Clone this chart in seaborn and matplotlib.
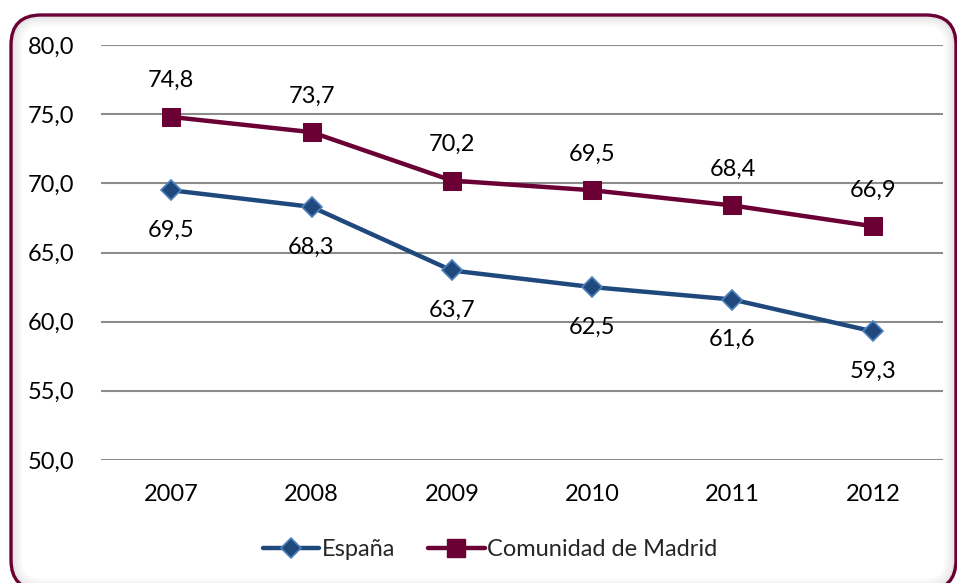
import matplotlib
matplotlib.use("Agg")
import matplotlib.pyplot as plt
import seaborn as sns
import pandas as pd
from matplotlib.patches import FancyBboxPatch
from matplotlib.transforms import IdentityTransform
from matplotlib.lines import Line2D

years = ["2007", "2008", "2009", "2010", "2011", "2012"]
espana = [69.5, 68.3, 63.7, 62.5, 61.6, 59.3]
madrid = [74.8, 73.7, 70.2, 69.5, 68.4, 66.9]
yticks = [50, 55, 60, 65, 70, 75, 80]

sns.set_theme(style="white")
plt.rcParams["font.family"] = ["Lato", "DejaVu Sans"]

W, H = 957, 583
fig = plt.figure(figsize=(W / 100, H / 100), dpi=100)
fig.patch.set_facecolor("white")

FS = 17

# rounded frame with soft inner shadow
bx0, bytop, bx1, bybot = 11, 15, 956, 590
for i, a in enumerate([0.12, 0.08, 0.06, 0.04, 0.02]):
    inset = 2 + i * 2
    p = FancyBboxPatch((bx0 + inset, H - bybot + inset), (bx1 - bx0) - 2 * inset,
                       (bybot - bytop) - 2 * inset,
                       boxstyle="round,pad=0,rounding_size=%d" % (30 - inset),
                       transform=IdentityTransform(), fill=False,
                       edgecolor=(0.3, 0.3, 0.3, a), linewidth=2)
    fig.patches.append(p)
frame = FancyBboxPatch((bx0, H - bybot), bx1 - bx0, bybot - bytop,
                       boxstyle="round,pad=0,rounding_size=30",
                       transform=IdentityTransform(), fill=False,
                       edgecolor="#6B0034", linewidth=2.4)
fig.patches.append(frame)

ax = fig.add_axes([101 / W, 1 - 460 / H, (943 - 101) / W, (460 - 45) / H])
ax.set_facecolor("none")

df = pd.DataFrame({"year": years, "España": espana, "Comunidad de Madrid": madrid})
xs = list(range(len(years)))
df["x"] = xs

blue = "#1F497D"
maroon = "#6B0034"

sns.lineplot(data=df, x="x", y="España", ax=ax, color=blue, linewidth=3.2,
             marker="D", markersize=10, markerfacecolor=blue,
             markeredgecolor="#4F81BD", markeredgewidth=1.2, zorder=3)
sns.lineplot(data=df, x="x", y="Comunidad de Madrid", ax=ax, color=maroon, linewidth=3.2,
             marker="s", markersize=13, markerfacecolor=maroon,
             markeredgecolor=maroon, zorder=3)

fmt = lambda v: ("%.1f" % v).replace(".", ",")
for x, v in zip(xs, madrid):
    ax.annotate(fmt(v), (x, v), xytext=(0, 26), textcoords="offset points",
                ha="center", va="center", fontsize=FS, color="black")
for x, v in zip(xs, espana):
    ax.annotate(fmt(v), (x, v), xytext=(0, -29), textcoords="offset points",
                ha="center", va="center", fontsize=FS, color="black")

ax.set_xlim(-0.5, len(years) - 0.5)
ax.set_ylim(50, 80)
ax.set_xticks(xs)
ax.set_xticklabels(years)
ax.set_yticks(yticks)
ax.set_yticklabels([fmt(v) for v in yticks])
ax.yaxis.grid(True, color="#8C8C8C", linewidth=1.5)
ax.set_axisbelow(True)
for s in ax.spines.values():
    s.set_visible(False)
ax.tick_params(axis="both", length=0, labelsize=FS, colors="black")
ax.tick_params(axis="y", pad=19)
ax.tick_params(axis="x", pad=17)
ax.set_xlabel("")
ax.set_ylabel("")
if ax.get_legend():
    ax.get_legend().remove()

handles = [
    Line2D([], [], color=blue, linewidth=3.2, marker="D", markersize=10,
           markerfacecolor=blue, markeredgecolor="#4F81BD", markeredgewidth=1.2),
    Line2D([], [], color=maroon, linewidth=3.2, marker="s", markersize=13,
           markerfacecolor=maroon, markeredgecolor=maroon),
]
fig.legend(handles, ["España", "Comunidad de Madrid"], loc="center",
           bbox_to_anchor=(490 / W, 1 - 550 / H), ncol=2, frameon=False,
           fontsize=FS, handlelength=2.4, handletextpad=0.1, columnspacing=1.4)

fig.savefig("out.png", dpi=100, facecolor="white")
